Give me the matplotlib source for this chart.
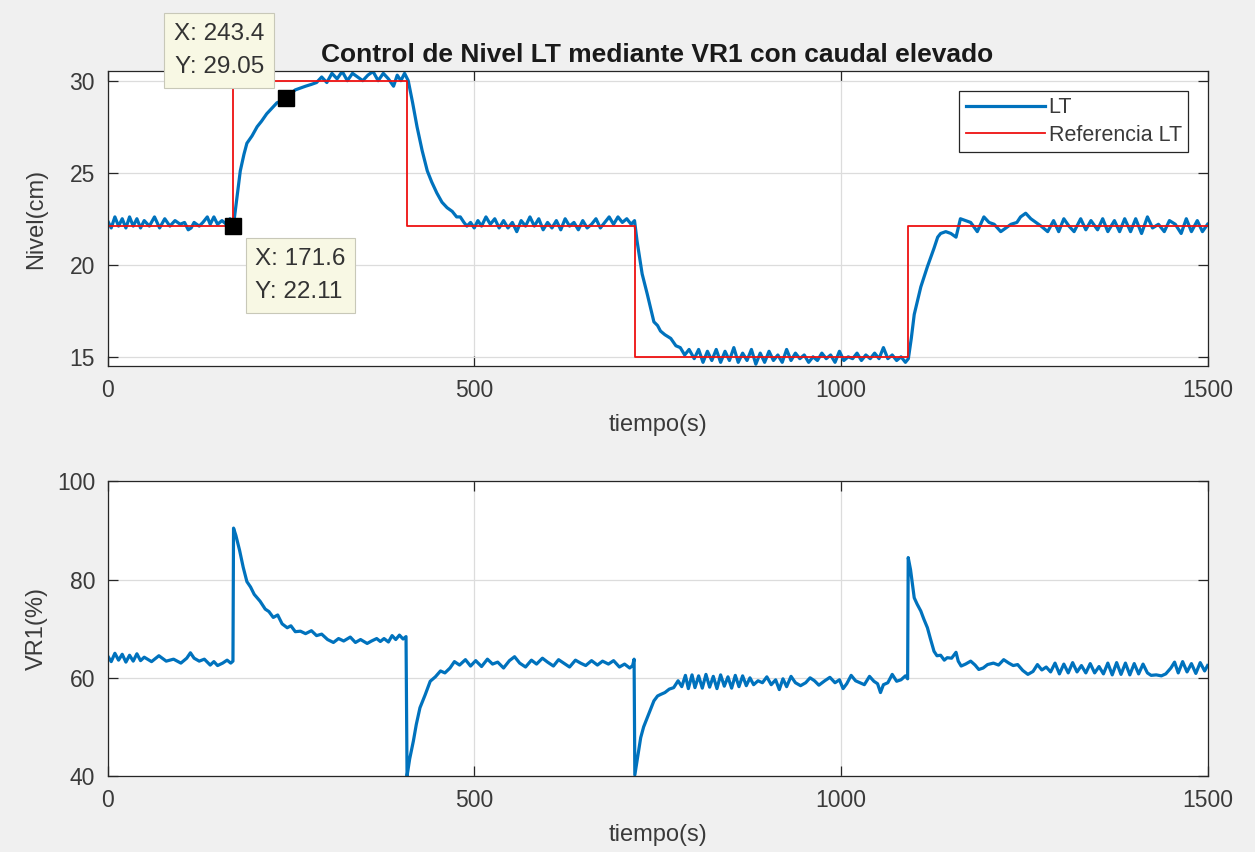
import numpy as np
import matplotlib
matplotlib.use('Agg')
import matplotlib.pyplot as plt

plt.rcParams['font.family'] = ['Liberation Sans', 'DejaVu Sans']

# nivel LT (cm) medido
t_lt = [0, 5, 10, 15, 20, 25, 30, 35, 40, 45, 50, 57, 64, 71, 78, 85, 92, 99, 105, 110,
        114, 118, 125, 130, 136, 140, 145, 150, 156, 162, 167, 171.6, 176, 181, 186, 190,
        197, 204, 210, 217, 224, 231, 237, 243.4, 250, 256, 263, 270, 278, 285, 292, 299,
        306, 313, 320, 327, 334, 341, 348, 355, 362, 369, 376, 383, 390, 395, 400, 405,
        410, 416, 422, 429, 436, 442, 449, 456, 463, 470, 476, 481, 486, 490, 495, 500,
        505, 510, 516, 522, 528, 534, 540, 546, 552, 558, 564, 570, 576, 582, 588, 594,
        600, 606, 612, 618, 624, 630, 636, 642, 648, 654, 660, 666, 672, 678, 684, 690,
        696, 702, 708, 714, 718.6, 722, 729, 736, 745, 750, 754, 760, 768, 775, 781, 787,
        793, 800, 806, 812, 818, 824, 830, 836, 842, 848, 854, 860, 866, 872, 878, 884,
        890, 896, 902, 908, 914, 920, 926, 932, 938, 944, 950, 956, 962, 968, 974, 980,
        986, 992, 998, 1004, 1010, 1016, 1022, 1028, 1034, 1040, 1046, 1052, 1058, 1064,
        1070, 1076, 1082, 1088, 1092, 1096, 1100, 1109, 1118, 1127, 1132, 1136, 1143,
        1150, 1157, 1163, 1170, 1177, 1186, 1195, 1202, 1209, 1218, 1225, 1232, 1240,
        1245, 1252, 1259, 1266, 1273, 1282, 1290, 1297, 1304, 1311, 1318, 1327, 1334,
        1341, 1350, 1357, 1364, 1373, 1380, 1387, 1395, 1402, 1410, 1418, 1425, 1433,
        1441, 1448, 1456, 1464, 1471, 1478, 1486, 1493, 1500]
lt = [22.4, 22.0, 22.6, 22.1, 22.5, 22.0, 22.6, 22.1, 22.5, 22.0, 22.4, 22.1, 22.6, 22.0,
      22.5, 22.1, 22.4, 22.2, 22.3, 21.9, 22.0, 22.3, 22.1, 22.3, 22.6, 22.2, 22.6, 22.2,
      22.4, 22.2, 22.5, 22.11, 23.5, 25.1, 26.0, 26.6, 27.0, 27.5, 27.8, 28.2, 28.5, 28.8,
      28.9, 29.05, 29.3, 29.5, 29.6, 29.7, 29.8, 29.9, 30.2, 29.9, 30.4, 30.1, 30.5, 30.0,
      30.4, 30.2, 30.0, 30.3, 30.5, 30.0, 30.4, 30.1, 29.7, 30.3, 30.0, 30.4, 30.0, 28.8,
      27.5, 26.2, 25.1, 24.5, 23.9, 23.4, 23.1, 22.9, 22.6, 22.6, 22.3, 22.1, 22.3, 22.0,
      22.4, 22.1, 22.6, 22.2, 22.5, 22.0, 22.4, 22.0, 22.3, 21.8, 22.4, 22.1, 22.6, 22.1,
      22.5, 21.9, 22.3, 22.0, 22.4, 21.9, 22.5, 22.1, 22.3, 21.9, 22.4, 22.0, 22.2, 22.5,
      22.0, 22.3, 22.6, 22.2, 22.6, 22.3, 22.5, 22.2, 22.4, 21.3, 19.5, 18.4, 16.9, 16.7,
      16.4, 16.2, 16.0, 15.6, 15.5, 15.1, 15.4, 14.9, 15.4, 14.7, 15.3, 14.8, 15.4, 14.7,
      15.3, 14.8, 15.5, 14.7, 15.2, 14.8, 15.4, 14.6, 15.2, 14.7, 15.3, 14.8, 15.1, 14.7,
      15.4, 14.8, 15.2, 14.9, 15.1, 14.7, 15.0, 14.8, 15.2, 14.9, 15.1, 14.7, 15.3, 14.8,
      15.0, 14.9, 15.2, 14.8, 15.1, 14.9, 15.2, 14.9, 15.5, 14.9, 15.1, 14.8, 15.0, 14.7,
      14.9, 16.0, 17.3, 18.8, 19.9, 20.9, 21.5, 21.7, 21.8, 21.7, 21.5, 22.5, 22.4, 22.3,
      21.8, 22.6, 22.3, 22.2, 21.8, 22.0, 22.2, 22.3, 22.6, 22.8, 22.5, 22.3, 22.1, 21.8,
      22.4, 21.8, 22.5, 22.1, 21.8, 22.5, 21.9, 22.4, 21.9, 22.5, 21.8, 22.4, 21.8, 22.5,
      21.8, 22.5, 21.7, 22.6, 22.0, 22.2, 21.8, 22.4, 22.2, 21.7, 22.5, 21.8, 22.4, 21.8,
      22.2]

# referencia de nivel (escalones)
t_ref = [0, 171.6, 171.6, 408, 408, 718.6, 718.6, 1091.6, 1091.6, 1500]
ref = [22.11, 22.11, 30, 30, 22.11, 22.11, 15, 15, 22.11, 22.11]

# apertura de la valvula VR1 (%)
t_vr = [0, 5, 10, 15, 20, 25, 30, 35, 40, 45, 50, 60, 70, 80, 90, 100, 108, 113, 118, 125,
        132, 140, 145, 150, 157, 163, 168, 171, 171.8, 175, 180, 185, 190, 195, 200, 208,
        215, 220, 226, 232, 238, 245, 250, 256, 263, 270, 278, 285, 292, 300, 308, 315,
        322, 331, 338, 345, 354, 360, 367, 372, 377, 383, 388, 393, 398, 403, 407, 408.4,
        412, 417, 421, 426, 433, 440, 447, 454, 460, 467, 473, 480, 488, 495, 502, 510,
        518, 525, 532, 540, 548, 555, 562, 570, 578, 585, 593, 600, 608, 615, 622, 630,
        638, 645, 652, 660, 668, 675, 683, 690, 698, 705, 712, 716, 718, 719, 723, 727,
        731, 736, 745, 750, 754, 760, 766, 772, 778, 783, 788, 792, 797, 801, 806, 811,
        816, 821, 826, 831, 836, 841, 846, 851, 856, 861, 866, 871, 876, 881, 887, 893,
        899, 905, 911, 916, 921, 926, 932, 938, 945, 952, 958, 964, 970, 978, 985, 992,
        998, 1003, 1008, 1014, 1020, 1026, 1032, 1039, 1045, 1050, 1054, 1058, 1064, 1070,
        1076, 1082, 1088, 1091, 1091.8, 1095, 1100, 1104, 1109, 1113, 1118, 1122, 1127,
        1131, 1136, 1141, 1145, 1151, 1157, 1160, 1164, 1170, 1177, 1183, 1188, 1194,
        1200, 1208, 1215, 1222, 1229, 1235, 1241, 1248, 1255, 1262, 1268, 1274, 1280,
        1286, 1292, 1298, 1304, 1310, 1316, 1322, 1328, 1334, 1340, 1346, 1352, 1358,
        1364, 1370, 1376, 1382, 1388, 1394, 1400, 1406, 1412, 1418, 1423, 1430, 1437,
        1443, 1450, 1455, 1460, 1466, 1472, 1478, 1484, 1490, 1496, 1500]
vr1 = [64.5, 63.3, 65.0, 63.6, 64.8, 63.2, 64.6, 63.4, 64.9, 63.5, 64.2, 63.3, 64.5, 63.4,
       63.8, 63.0, 64.0, 65.1, 64.0, 63.4, 63.8, 62.6, 63.3, 62.5, 63.0, 63.6, 63.0, 63.4,
       90.5, 89.0, 86.0, 82.5, 79.6, 78.5, 77.0, 75.6, 74.0, 73.5, 72.3, 72.8, 71.0, 70.2,
       70.6, 69.4, 69.5, 69.0, 69.6, 68.6, 68.9, 67.8, 67.2, 68.0, 67.5, 68.3, 67.2, 67.8,
       67.0, 67.5, 68.0, 67.4, 68.0, 67.3, 68.6, 67.8, 68.7, 67.9, 68.4, 40.0, 43.5, 47.1,
       50.5, 53.9, 56.5, 59.3, 60.2, 61.4, 61.0, 62.0, 63.3, 62.6, 63.7, 62.4, 63.5, 62.3,
       63.8, 62.8, 63.2, 62.0, 63.5, 64.3, 63.0, 62.2, 63.6, 62.8, 64.0, 63.2, 62.4, 63.7,
       63.0, 62.2, 63.6, 63.0, 62.5, 63.5, 62.6, 63.4, 62.8, 63.5, 62.2, 62.8, 62.0, 62.5,
       63.8, 40.2, 44.0, 47.8, 50.0, 51.9, 55.3, 56.3, 56.6, 57.0, 57.7, 58.0, 59.4, 58.2,
       60.5, 57.8, 60.6, 58.0, 60.4, 57.9, 60.7, 58.1, 60.3, 57.8, 60.6, 58.3, 60.2, 57.9,
       60.5, 58.2, 60.4, 58.4, 60.0, 58.6, 59.4, 59.0, 60.2, 58.6, 59.6, 57.6, 59.8, 58.2,
       60.3, 59.0, 58.4, 59.0, 60.0, 59.4, 58.5, 59.4, 60.1, 59.0, 59.6, 57.8, 58.8, 60.5,
       59.4, 59.0, 58.6, 60.3, 59.3, 58.8, 57.0, 58.6, 59.0, 60.7, 59.3, 59.6, 60.4, 59.8,
       84.5, 82.0, 76.3, 75.0, 73.6, 72.0, 70.2, 68.0, 65.4, 64.5, 64.6, 63.6, 64.1, 64.0,
       65.2, 63.4, 62.4, 62.8, 63.4, 62.6, 61.7, 62.0, 62.7, 63.0, 62.6, 63.7, 63.0, 62.5,
       62.7, 61.5, 60.7, 61.3, 62.7, 61.6, 62.2, 61.2, 63.0, 60.8, 62.8, 61.0, 63.1, 61.2,
       62.5, 61.0, 62.9, 61.0, 62.3, 60.8, 63.0, 60.6, 63.1, 60.7, 63.0, 60.6, 62.9, 60.8,
       62.8, 61.0, 60.5, 60.6, 60.4, 60.8, 62.0, 63.2, 61.0, 63.3, 61.2, 62.9, 60.9, 63.1,
       61.4, 62.5]

# puntos marcados con data tip
tips_t = [243.4, 171.6]
tips_y = [29.05, 22.11]

azul = '#0072BD'
gris = '#262626'
txtc = '#3a3a3a'

fig = plt.figure(figsize=(12.55, 8.52), dpi=100, facecolor='#f0f0f0')
ax1 = fig.add_axes([0.0857, 0.5704, 0.8765, 0.3457])
ax2 = fig.add_axes([0.0857, 0.0892, 0.8765, 0.3457])


def estilo(ax, ylab):
    ax.set_facecolor('white')
    ax.set_xlim(0, 1500)
    ax.set_xticks([0, 500, 1000, 1500])
    ax.grid(True, color='#dcdcdc', lw=0.9)
    ax.set_axisbelow(True)
    for s in ax.spines.values():
        s.set_color(gris)
        s.set_linewidth(0.9)
    ax.tick_params(direction='in', top=True, right=True, length=7, width=0.9,
                   colors=gris, labelsize=16.5, labelcolor=txtc, pad=9)
    ax.set_xlabel('tiempo(s)', fontsize=17, color=txtc)
    ax.set_ylabel(ylab, fontsize=17, color=txtc)
    ax.xaxis.set_label_coords(0.5, -0.163)
    ax.yaxis.set_label_coords(-0.0546, 0.5)


# --- nivel ---
estilo(ax1, 'Nivel(cm)')
ax1.plot(t_lt, lt, color=azul, lw=2.3, label='LT')
ax1.plot(t_ref, ref, color='#ee1111', lw=1.3, label='Referencia LT')
ax1.set_ylim(14.5, 30.5)
ax1.set_yticks([15, 20, 25, 30])
ax1.set_title('Control de Nivel LT mediante VR1 con caudal elevado',
              fontsize=19, fontweight='bold', color='#1a1a1a', pad=7)
leg = ax1.legend(loc='upper right', fontsize=15.5, fancybox=False, framealpha=1,
                 edgecolor=gris, handlelength=3.7, handletextpad=0.15,
                 borderaxespad=0.9, borderpad=0.3, labelspacing=0.3)
leg.get_frame().set_linewidth(0.9)
for txt in leg.get_texts():
    txt.set_color(txtc)

ax1.plot(tips_t, tips_y, 's', color='black', ms=11, zorder=6, clip_on=False)
offs = [(-22, 20), (22, -22)]
aligns = [('right', 'bottom'), ('left', 'top')]
for tt, yy, off, (ha, va) in zip(tips_t, tips_y, offs, aligns):
    ax1.annotate('X: %.1f\nY: %.2f' % (tt, yy), xy=(tt, yy), xytext=off,
                 textcoords='offset pixels', ha=ha, va=va, fontsize=17.5,
                 color='#333333', linespacing=1.65, zorder=10,
                 annotation_clip=False,
                 bbox=dict(boxstyle='square,pad=0.4', fc='#f8f8e4', ec='#c8c8b8', lw=0.8))

# --- valvula ---
estilo(ax2, 'VR1(%)')
ax2.plot(t_vr, vr1, color=azul, lw=2.3)
ax2.set_ylim(40, 100)
ax2.set_yticks([40, 60, 80, 100])

fig.savefig('out.png', dpi=100, facecolor=fig.get_facecolor())
